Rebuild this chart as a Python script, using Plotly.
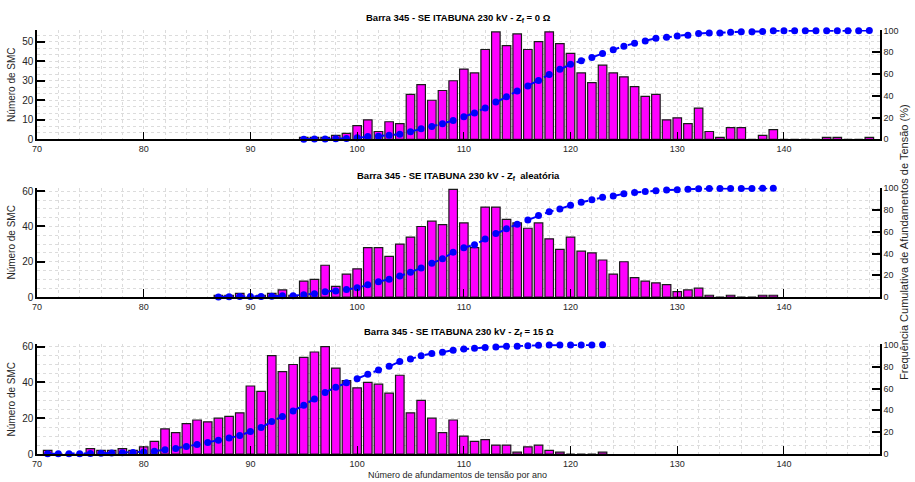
import numpy as np
import plotly.graph_objects as go

# ---------------- data ----------------
x_p1 = list(range(95, 149))
counts_p1 = [1, 1, 1, 2, 3, 7, 10, 4, 9, 8, 23, 28, 20, 25, 30, 36, 34, 46, 55, 48,
             54, 46, 50, 55, 49, 44, 34, 29, 38, 34, 32, 27, 22, 23, 10, 11, 8, 16, 4, 1,
             6, 6, 0, 2, 5, 0, 0, 0, 0, 1, 1, 0, 0, 1]

x_p2 = list(range(87, 140))
counts_p2 = [1, 1, 2, 0, 1, 2, 4, 1, 9, 10, 18, 6, 13, 16, 28, 28, 23, 30, 34, 40,
             43, 41, 61, 42, 28, 51, 51, 44, 42, 39, 42, 33, 27, 34, 26, 25, 21, 13, 20, 11,
             9, 8, 7, 3, 4, 5, 1, 0, 1, 0, 0, 1, 1]

x_p3 = list(range(71, 124))
counts_p3 = [2, 0, 0, 0, 3, 2, 2, 3, 2, 4, 7, 14, 12, 17, 19, 18, 20, 21, 23, 38,
             35, 55, 46, 50, 54, 57, 60, 48, 41, 37, 40, 39, 34, 44, 23, 30, 20, 12, 19, 10,
             7, 8, 5, 5, 1, 4, 5, 2, 1, 0, 0, 0, 1]

titles = [
    "<b>Barra 345 - SE ITABUNA 230 kV - Z<sub>f</sub> = 0 Ω</b>",
    "<b>Barra 345 - SE ITABUNA 230 kV - Z<sub>f</sub>  aleatória</b>",
    "<b>Barra 345 - SE ITABUNA 230 kV - Z<sub>f</sub> = 15 Ω</b>",
]
left_ranges = [56, 62, 61.3]
left_dticks = [10, 20, 20]
left_minor = [10 / 3, 5, 5]
x_ticks = [70, 80, 90, 100, 110, 120, 130, 140]
right_ticks = [0, 20, 40, 60, 80, 100]

ylabel = "Número de SMC"
xlabel = "Número de afundamentos de tensão por ano"
rlabel = "Frequência Cumulativa de Afundamentos de Tensão (%)"

# ---------------- layout geometry ----------------
W, H = 915, 482
x_dom = [37 / W, 880 / W]
y_doms = [
    [(H - 139.3) / H, (H - 30) / H],
    [(H - 297) / H, (H - 187.7) / H],
    [(H - 454) / H, (H - 344.3) / H],
]
title_y = [(H - 18) / H, (H - 176) / H, (H - 332) / H]

FONT = "Liberation Sans, Arial, Helvetica, sans-serif"
GRID = "#dcdcdc"
TXT = "#262626"

fig = go.Figure()
layout = dict(
    width=W, height=H,
    margin=dict(l=0, r=0, t=0, b=0, autoexpand=False),
    paper_bgcolor="white", plot_bgcolor="white",
    showlegend=False, bargap=0.2,
    font=dict(family=FONT, size=9, color=TXT),
)

datasets = [(x_p1, counts_p1), (x_p2, counts_p2), (x_p3, counts_p3)]
annotations = []
for i, (xs, cs) in enumerate(datasets):
    n = i + 1
    xa = "x" if n == 1 else f"x{n}"
    yl_idx = 2 * n - 1
    yr_idx = 2 * n
    yl = "y" if yl_idx == 1 else f"y{yl_idx}"
    yr = f"y{yr_idx}"
    cs_arr = np.array(cs, dtype=float)
    cum = np.cumsum(cs_arr) / cs_arr.sum() * 100

    fig.add_trace(go.Bar(
        x=xs, y=cs, xaxis=xa, yaxis=yl, width=0.8,
        marker=dict(color="#ff00ff", line=dict(color="#1a1a1a", width=1.2)),
    ))
    fig.add_trace(go.Scatter(
        x=xs, y=cum, xaxis=xa, yaxis=yr, mode="lines+markers",
        line=dict(color="#0000ff", width=2, dash="dash"),
        marker=dict(color="#0000ff", size=7),
        cliponaxis=False,
    ))

    xkey = "xaxis" if n == 1 else f"xaxis{n}"
    ylkey = "yaxis" if yl_idx == 1 else f"yaxis{yl_idx}"
    yrkey = f"yaxis{yr_idx}"
    layout[xkey] = dict(
        domain=x_dom, anchor=yl, range=[70, 149], automargin=False,
        tickmode="array", tickvals=x_ticks,
        ticks="inside", ticklen=8, tickwidth=1, tickcolor="#000",
        showline=True, linecolor="#000", linewidth=1.5,
        showgrid=True, gridcolor=GRID, griddash="dot", gridwidth=1,
        minor=dict(dtick=2, tick0=70, showgrid=True, gridcolor=GRID, griddash="dot", gridwidth=1),
        zeroline=False, tickfont=dict(size=9, color=TXT),
    )
    layout[ylkey] = dict(
        domain=y_doms[i], anchor=xa, range=[0, left_ranges[i]], automargin=False,
        dtick=left_dticks[i], tick0=0,
        ticks="inside", ticklen=8, tickwidth=1.5, tickcolor="#000",
        showline=True, linecolor="#000", linewidth=1.5,
        showgrid=True, gridcolor=GRID, griddash="dot", gridwidth=1,
        minor=dict(dtick=left_minor[i], tick0=0, showgrid=True, gridcolor=GRID, griddash="dot", gridwidth=1),
        zeroline=False, tickfont=dict(size=10, color=TXT),
        title=dict(text=ylabel, font=dict(size=10, color=TXT), standoff=5),
    )
    layout[yrkey] = dict(
        overlaying=yl, side="right", anchor=xa, range=[0, 100.5], automargin=False,
        tickmode="array", tickvals=right_ticks,
        ticks="inside", ticklen=8, tickwidth=1.5, tickcolor="#000",
        showline=True, linecolor="#000", linewidth=1.5,
        showgrid=False, zeroline=False, tickfont=dict(size=9, color=TXT),
    )
    annotations.append(dict(
        text=titles[i], xref="paper", yref="paper",
        x=(x_dom[0] + x_dom[1]) / 2, y=title_y[i],
        showarrow=False, xanchor="center", yanchor="middle",
        font=dict(size=9.5, color="#000", family=FONT),
    ))

annotations.append(dict(
    text=rlabel, xref="paper", yref="paper", x=904 / W, y=(H - 242) / H,
    textangle=-90, showarrow=False, xanchor="center", yanchor="middle",
    font=dict(size=11, color=TXT, family=FONT),
))
annotations.append(dict(
    text=xlabel, xref="paper", yref="paper", x=458 / W, y=(H - 475) / H,
    showarrow=False, xanchor="center", yanchor="middle",
    font=dict(size=9, color=TXT, family=FONT),
))
layout["annotations"] = annotations
fig.update_layout(**layout)
fig.write_html(
    "out.html",
    config={"displayModeBar": False},
    post_script="document.body.style.margin='0';document.body.style.overflow='hidden';",
)
